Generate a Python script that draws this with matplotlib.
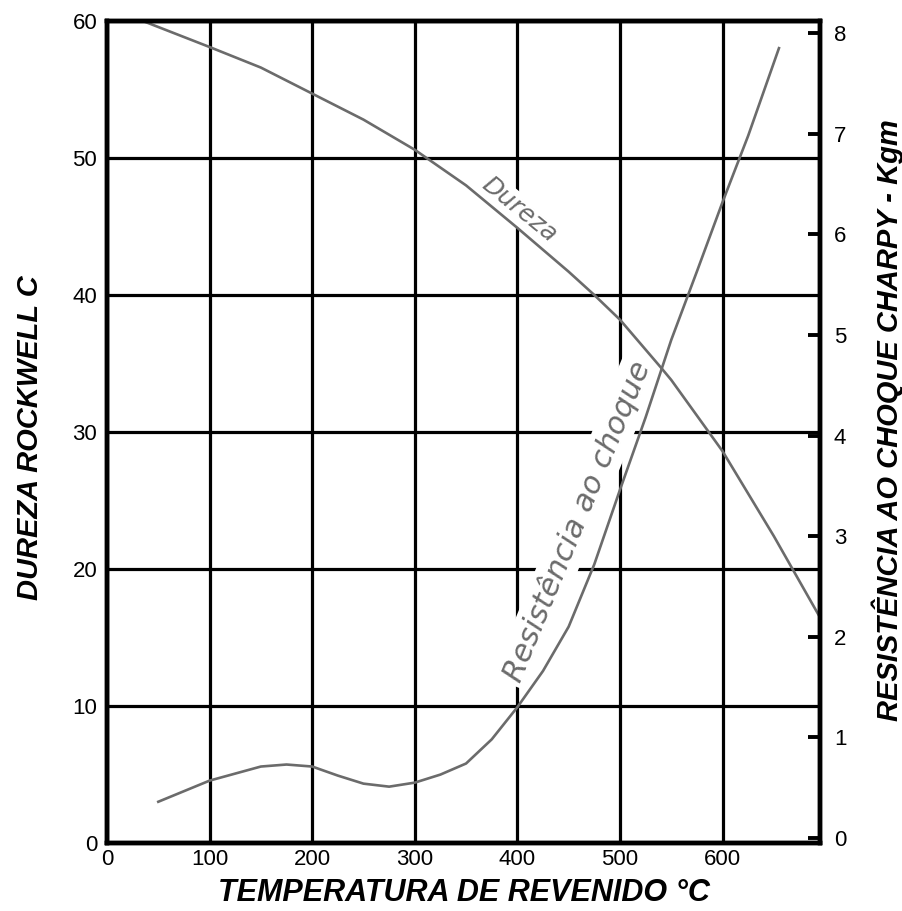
import matplotlib
matplotlib.use("Agg")
import matplotlib.pyplot as plt

plt.rcParams['font.family'] = ['Liberation Sans', 'DejaVu Sans']

# Dureza Rockwell C (eixo esquerdo)
temp_dureza = [35, 100, 150, 200, 250, 300, 350, 400, 450, 475, 500, 540, 550, 600, 650, 694]
dureza = [60.0, 58.1, 56.6, 54.7, 52.8, 50.6, 48.0, 44.9, 41.7, 40.0, 38.2, 34.7, 33.8, 28.6, 22.4, 16.6]

# Resistencia ao choque Charpy - Kgm (eixo direito)
temp_charpy = [50, 100, 150, 175, 200, 225, 250, 275, 300, 325, 350, 375, 400, 425,
               450, 475, 500, 525, 550, 575, 600, 625, 655]
charpy = [0.36, 0.57, 0.71, 0.73, 0.71, 0.62, 0.54, 0.51, 0.55, 0.63, 0.74, 0.98, 1.30, 1.66,
          2.10, 2.72, 3.46, 4.18, 4.95, 5.63, 6.32, 6.98, 7.85]

x_ticks = [0, 100, 200, 300, 400, 500, 600]
y_ticks = [0, 10, 20, 30, 40, 50, 60]
y2_ticks = [0, 1, 2, 3, 4, 5, 6, 7, 8]

curve_color = '#6b6b6b'

fig = plt.figure(figsize=(9.03, 9.11), dpi=100)
ax = fig.add_axes([107 / 903, 68 / 911, 713 / 903, 822 / 911])
ax2 = ax.twinx()

ax.set_xlim(0, 695)
ax.set_ylim(0, 60)
ax2.set_ylim(-0.05, 8.12)

ax.set_xticks(x_ticks)
ax.set_yticks(y_ticks)
ax2.set_yticks(y2_ticks)

ax.grid(True, color='black', linewidth=2.3, zorder=1)
ax.set_axisbelow(True)

for a in (ax, ax2):
    for s in a.spines.values():
        s.set_linewidth(3.2)
        s.set_zorder(6)

ax.tick_params(axis='both', length=0, labelsize=16)
ax.tick_params(axis='y', pad=7)
ax.tick_params(axis='x', pad=4)
ax2.tick_params(axis='y', direction='in', length=9, width=2.8, labelsize=16, pad=10)

ax.plot(temp_dureza, dureza, color=curve_color, linewidth=1.9, zorder=4)
ax2.plot(temp_charpy, charpy, color=curve_color, linewidth=1.9, zorder=4)

# rótulos das curvas, com fundo branco cortando a grade
ax.text(402, 46.2, 'Dureza', rotation=-39, rotation_mode='anchor', ha='center', va='center',
        fontsize=18, style='italic', color=curve_color, family=['DejaVu Sans'], zorder=3,
        bbox=dict(boxstyle='square,pad=0.1', facecolor='white', edgecolor='none'))
ax.text(458, 23.5, 'Resistência ao choque', rotation=67.7, rotation_mode='anchor',
        ha='center', va='center', fontsize=22, style='italic', color=curve_color,
        family=['DejaVu Sans'], zorder=3,
        bbox=dict(boxstyle='square,pad=0.15', facecolor='white', edgecolor='none'))

label_font = dict(fontsize=21, fontweight='bold', style='italic')
ax.set_xlabel('TEMPERATURA DE REVENIDO °C', fontsize=22, fontweight='bold', style='italic')
ax.set_ylabel('DUREZA ROCKWELL C', **label_font)
ax2.set_ylabel('RESISTÊNCIA AO CHOQUE CHARPY - Kgm', **label_font)
ax.xaxis.set_label_coords(0.5, -0.043)
ax.yaxis.set_label_coords(-0.089, 0.493)
ax2.yaxis.set_label_coords(1.072, 0.515)

fig.savefig('out.png', dpi=100)
